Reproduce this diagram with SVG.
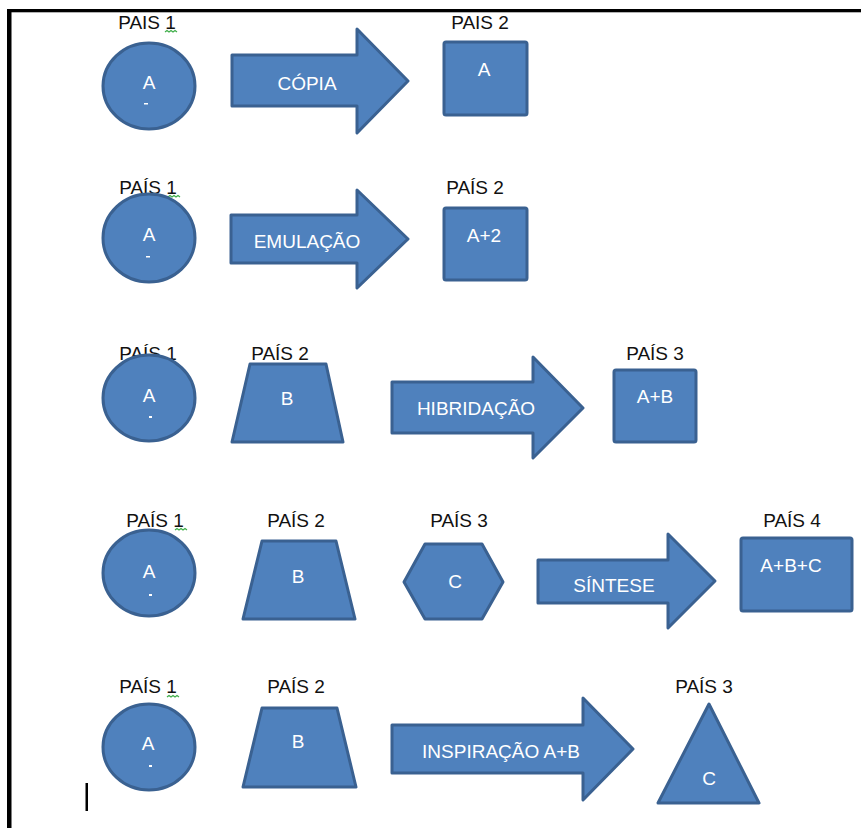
<svg xmlns="http://www.w3.org/2000/svg" width="861" height="828" viewBox="0 0 861 828">
  <defs>
    <style>
      .shape { fill: #4F81BD; stroke: #3A6191; stroke-width: 3; stroke-linejoin: round; }
      .lbl { font-family: "Liberation Sans", Arial, sans-serif; font-size: 19px; fill: #111; text-anchor: middle; }
      .in { font-family: "Liberation Sans", Arial, sans-serif; font-size: 19px; fill: #FFFFFF; text-anchor: middle; }
      .mark { fill: #FFFFFF; }
      .squiggle { fill: none; stroke: #3FAE49; stroke-width: 1.2; }
    </style>
  </defs>

  <rect width="861" height="828" fill="#FFFFFF"/>

  <!-- page frame -->
  <rect x="7" y="9" width="854" height="3.3" fill="#000"/>
  <rect x="7" y="9" width="4.5" height="819" fill="#000"/>
  <!-- text cursor -->
  <rect x="85.5" y="783" width="2.5" height="28" fill="#000"/>

  <!-- ===== Row 1: copy ===== -->
  <g id="r1-pais1">
    <text class="lbl" x="147" y="29">PAIS 1</text>
    <path class="squiggle" d="M165 32 l2 -1.5 l2 1.5 l2 -1.5 l2 1.5 l2 -1.5 l2 1.5"/>
    <ellipse class="shape" cx="149" cy="86" rx="46" ry="43"/>
    <text class="in" x="149" y="89">A</text>
    <rect class="mark" x="144" y="103" width="4" height="1.5"/>
  </g>
  <g id="r1-pais2">
    <text class="lbl" x="480" y="29">PAIS 2</text>
    <rect class="shape" x="444" y="42" width="83" height="73" rx="2"/>
    <text class="in" x="484" y="76">A</text>
  </g>

  <!-- ===== Row 2: emulation ===== -->
  <g id="r2-pais1">
    <text class="lbl" x="148" y="194">PAÍS 1</text>
    <path class="squiggle" d="M168 197 l2 -1.5 l2 1.5 l2 -1.5 l2 1.5 l2 -1.5 l2 1.5"/>
    <ellipse class="shape" cx="149" cy="238" rx="46" ry="44"/>
    <text class="in" x="149" y="241">A</text>
    <rect class="mark" x="146" y="256" width="4" height="1.5"/>
  </g>
  <g id="r2-pais2">
    <text class="lbl" x="475" y="194">PAÍS 2</text>
    <rect class="shape" x="444" y="208" width="83" height="72" rx="2"/>
    <text class="in" x="484" y="242">A+2</text>
  </g>

  <!-- ===== Row 3: hybridization ===== -->
  <g id="r3-pais1">
    <text class="lbl" x="148" y="360">PAÍS 1</text>
    <ellipse class="shape" cx="149" cy="398" rx="46" ry="43"/>
    <text class="in" x="149" y="402">A</text>
    <rect class="mark" x="149" y="416" width="3" height="2"/>
  </g>
  <g id="r3-pais2">
    <text class="lbl" x="280" y="360">PAÍS 2</text>
    <polygon class="shape" points="250,364 326,364 343,442 232,442"/>
    <text class="in" x="287" y="405">B</text>
  </g>
  <g id="r3-pais3">
    <text class="lbl" x="655" y="360">PAÍS 3</text>
    <rect class="shape" x="614" y="370" width="82" height="72" rx="2"/>
    <text class="in" x="655" y="403">A+B</text>
  </g>

  <!-- ===== Row 4: synthesis ===== -->
  <g id="r4-pais1">
    <text class="lbl" x="155" y="527">PAÍS 1</text>
    <path class="squiggle" d="M175 530 l2 -1.5 l2 1.5 l2 -1.5 l2 1.5 l2 -1.5 l2 1.5"/>
    <ellipse class="shape" cx="149" cy="573" rx="46" ry="43"/>
    <text class="in" x="149" y="578">A</text>
    <rect class="mark" x="149" y="594" width="3" height="2"/>
  </g>
  <g id="r4-pais2">
    <text class="lbl" x="296" y="527">PAÍS 2</text>
    <polygon class="shape" points="262,541 336,541 355,619 243,619"/>
    <text class="in" x="298" y="583">B</text>
  </g>
  <g id="r4-pais3">
    <text class="lbl" x="459" y="527">PAÍS 3</text>
    <polygon class="shape" points="404,582 425,544 482,544 503,582 482,619 425,619"/>
    <text class="in" x="455" y="588">C</text>
  </g>
  <g id="r4-pais4">
    <text class="lbl" x="792" y="527">PAÍS 4</text>
    <rect class="shape" x="741" y="538" width="111" height="73" rx="2"/>
    <text class="in" x="791" y="572">A+B+C</text>
  </g>

  <!-- ===== Row 5: inspiration ===== -->
  <g id="r5-pais1">
    <text class="lbl" x="148" y="693">PAÍS 1</text>
    <path class="squiggle" d="M167 697 l2 -1.5 l2 1.5 l2 -1.5 l2 1.5 l2 -1.5 l2 1.5"/>
    <ellipse class="shape" cx="149" cy="747" rx="46" ry="43"/>
    <text class="in" x="148" y="750">A</text>
    <rect class="mark" x="149" y="765" width="3" height="2"/>
  </g>
  <g id="r5-pais2">
    <text class="lbl" x="296" y="693">PAÍS 2</text>
    <polygon class="shape" points="262,708 337,708 356,787 243,787"/>
    <text class="in" x="298" y="748">B</text>
  </g>
  <g id="r5-pais3">
    <text class="lbl" x="704" y="693">PAÍS 3</text>
    <polygon class="shape" points="709,704 759,803 658,803"/>
    <text class="in" x="709" y="785">C</text>
  </g>

  <!-- block arrows between countries -->
  <g id="connectors">
    <g id="arrow-copia">
      <polygon class="shape" points="232,55 357,55 357,29 408,81 357,133 357,106 232,106"/>
      <text class="in" x="307" y="90">CÓPIA</text>
    </g>
    <g id="arrow-emulacao">
      <polygon class="shape" points="231,215 357,215 357,190 408,239 357,288 357,263 231,263"/>
      <text class="in" x="307" y="248">EMULAÇÃO</text>
    </g>
    <g id="arrow-hibridacao">
      <polygon class="shape" points="392,382 533,382 533,357 583,408 533,458 533,433 392,433"/>
      <text class="in" x="476" y="415">HIBRIDAÇÃO</text>
    </g>
    <g id="arrow-sintese">
      <polygon class="shape" points="538,560 668,560 668,534 715,581 668,628 668,603 538,603"/>
      <text class="in" x="614" y="592">SÍNTESE</text>
    </g>
    <g id="arrow-inspiracao">
      <polygon class="shape" points="392,725 583,725 583,698 633,749 583,800 583,773 392,773"/>
      <text class="in" x="501" y="758">INSPIRAÇÃO A+B</text>
    </g>
  </g>
</svg>
